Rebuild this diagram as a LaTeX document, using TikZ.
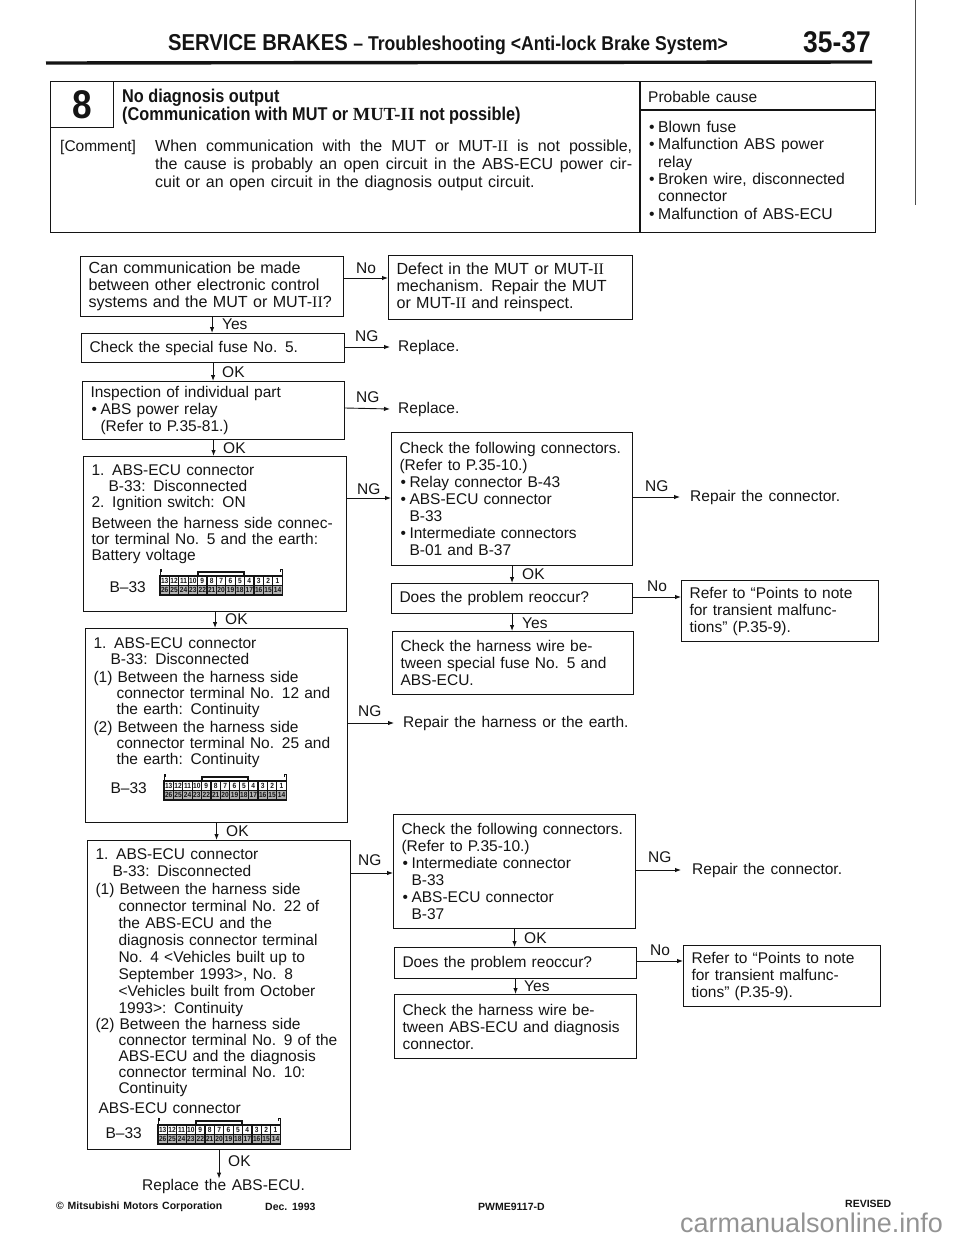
\documentclass[tikz,border=0pt]{standalone}
\usepackage{fontspec}
\setmainfont[WordSpace=1.3]{Liberation Sans}
\newfontfamily\headfont[FakeStretch=0.88]{Liberation Sans}
\newfontfamily\romanfont{Liberation Serif}
\usetikzlibrary{
    arrows.meta,
    positioning
}

\definecolor{ink}{gray}{0.08}
\newcommand{\MUTII}{MUT-{\romanfont II}}
\newcommand{\bul}{\makebox[10pt][l]{\hspace{1pt}\textbullet}}
\newcommand{\ind}[1]{\hspace*{#1pt}}
\newcommand{\bconn}[2]{%
\begin{scope}[shift={(#1,#2)}]
    \draw[line width=1pt,ink] (0,7) -- (0,0) -- (1.5,0) -- (1.5,3);
    \draw[line width=1pt,ink] (122,7) -- (122,0) -- (120.5,0) -- (120.5,3);
    \draw[line width=1.2pt,ink] (38,7) -- (38,3) -- (84,3) -- (84,7);
    \foreach \n [evaluate=\n as \cx using (13-\n)*9.4] in {13,12,...,1}{
        \draw[line width=1.1pt,ink] (\cx,7) rectangle +(9.4,9.5);
        \node[pinlbl] (top\n) at (\cx+4.7,11.7) {\n};
    }
    \foreach \n [evaluate=\n as \cx using (26-\n)*9.4] in {26,25,...,14}{
        \draw[line width=1.1pt,ink,fill=gray!60] (\cx,16.5) rectangle +(9.4,9.5);
        \node[pinlbl] (bot\n) at (\cx+4.7,21.3) {\n};
    }
\end{scope}}

\begin{document}
\begin{tikzpicture}[x=1pt,y=-1pt,ink,
    flowbox/.style={draw,line width=1.1pt,anchor=north west,align=left,
        inner xsep=8pt,inner ysep=0pt,minimum width=#1,text width=#1-16pt,
        font=\fontsize{15.5}{17}\selectfont},
    widebox/.style={font=\fontsize{16.1}{17}\selectfont},
    tightbox/.style={font=\fontsize{15.5}{16}\selectfont},
    lbl/.style={anchor=west,inner sep=0pt,font=\fontsize{15.5}{17}\selectfont},
    toplbl/.style={anchor=west,inner sep=0pt,font=\fontsize{15.5}{17}\selectfont},
    pinlbl/.style={inner sep=0pt,font=\headfont\bfseries\fontsize{7.5}{8}\selectfont},
    footlbl/.style={anchor=west,inner sep=0pt,font=\bfseries\fontsize{10.5}{12}\selectfont},
    flow/.style={-{Latex[length=6pt,width=4.5pt]},line width=0.9pt}
]
\useasboundingbox (0,0) rectangle (960,1239);

% Page head
\node[anchor=west,inner sep=0pt,font=\headfont\bfseries\fontsize{23}{26}\selectfont]
    (title) at (168,45) {SERVICE BRAKES {\fontsize{20}{26}\selectfont – Troubleshooting <Anti-lock Brake System>}};
\node[anchor=west,inner sep=0pt,font=\headfont\bfseries\fontsize{30}{32}\selectfont]
    (pagenum) at (803,42) {35-37};
\draw[line width=3.4pt] (46,63) -- (872,62);
\draw[line width=0.8pt,black!70] (915,0) -- (915,205);

% Comment table
\node[draw,line width=1.3pt,anchor=north west,minimum width=825,minimum height=151,inner sep=0pt]
    (panel) at (50,81) {};
\node[draw,line width=1.3pt,anchor=north west,minimum width=63,minimum height=46,inner sep=0pt,
      font=\headfont\bfseries\fontsize{40}{42}\selectfont] (numbox) at (50,81) {8};
\draw[line width=1.1pt] (640,0 |- panel.north) -- (640,0 |- panel.south);
\draw[line width=1.1pt] (640,110) -- (panel.east |- 0,110);

\node[anchor=north west,inner sep=0pt,align=left,font=\headfont\bfseries\fontsize{18.5}{17}\selectfont]
    (headtxt) at (122,89) {No diagnosis output\\(Communication with MUT or {\romanfont\bfseries MUT-II} not possible)};
\node[toplbl] (cmtkey) at (60,147) {[Comment]};
\node[anchor=north west,inner sep=0pt,align=left,font=\fontsize{16}{18}\selectfont]
    (cmttxt) at (155,140) {\makebox[477pt][s]{When communication with the MUT or \MUTII{} is not possible,}\\
    \makebox[477pt][s]{the cause is probably an open circuit in the ABS-ECU power cir-}\\
    cuit or an open circuit in the diagnosis output circuit.};
\node[toplbl] (causekey) at (648,97) {Probable cause};
\node[anchor=north west,inner sep=0pt,align=left,font=\fontsize{15.7}{17.3}\selectfont]
    (causetxt) at (648,121) {\bul Blown fuse\\
    \bul Malfunction ABS power\\
    \ind{10}relay\\
    \bul Broken wire, disconnected\\
    \ind{10}connector\\
    \bul Malfunction of ABS-ECU};

% Left column
\node[flowbox=263,widebox,minimum height=60pt] (canask) at (80,256)
    {Can communication be made\\between other electronic control\\systems and the MUT or \MUTII?};
\node[flowbox=263,minimum height=29pt] (fusechk) at (81,333)
    {Check the special fuse No. 5.};
\node[flowbox=262,minimum height=58pt] (relayinsp) at (82,381)
    {Inspection of individual part\\\bul ABS power relay\\\ind{10}(Refer to P.35-81.)};
\node[flowbox=263,tightbox,minimum height=155pt] (voltchk) at (83,456)
    {1. ABS-ECU connector\\\ind{17}B-33: Disconnected\\2. Ignition switch: ON\\[5pt]
    Between the harness side connec-\\tor terminal No. 5 and the earth:\\Battery voltage\\[16pt]
    \ind{18}B--33\par\vspace*{10pt}};
\node[flowbox=262,tightbox,minimum height=194pt] (contchk) at (85,628)
    {1. ABS-ECU connector\\\ind{17}B-33: Disconnected\\[2pt]
    (1) Between the harness side\\\ind{23}connector terminal No. 12 and\\\ind{23}the earth: Continuity\\[2pt]
    (2) Between the harness side\\\ind{23}connector terminal No. 25 and\\\ind{23}the earth: Continuity\\[13pt]
    \ind{17}B--33\par\vspace*{20pt}};
\node[flowbox=263,minimum height=309pt] (ecuchk) at (87,840)
    {1. ABS-ECU connector\\\ind{17}B-33: Disconnected\\[1pt]
    (1) Between the harness side\\\ind{23}connector terminal No. 22 of\\\ind{23}the ABS-ECU and the\\\ind{23}diagnosis connector terminal\\\ind{23}No. 4 <Vehicles built up to\\\ind{23}September 1993>, No. 8\\\ind{23}<Vehicles built from October\\\ind{23}1993>: Continuity\\[-1pt]
    (2) Between the harness side\\[-1pt]\ind{23}connector terminal No. 9 of the\\[-1pt]\ind{23}ABS-ECU and the diagnosis\\[-1pt]\ind{23}connector terminal No. 10:\\[-1pt]\ind{23}Continuity\\[3pt]
    \ind{3}ABS-ECU connector\\[8pt]
    \ind{10}B--33\par\vspace*{2pt}};
\node[lbl] (replace) at (142,1186) {Replace the ABS-ECU.};

% Connector views
\bconn{160}{569}
\bconn{164}{774}
\bconn{158}{1118}

% Middle column
\node[flowbox=244,widebox,minimum height=64pt] (defect) at (388,255)
    {Defect in the MUT or \MUTII\\mechanism. Repair the MUT\\or \MUTII{} and reinspect.};
\node[lbl] (repa) at (398,347) {Replace.};
\node[lbl] (repb) at (398,409) {Replace.};
\node[flowbox=241,minimum height=133pt] (connchk) at (391,432)
    {Check the following connectors.\\(Refer to P.35-10.)\\\bul Relay connector B-43\\\bul ABS-ECU connector\\\ind{10}B-33\\\bul Intermediate connectors\\\ind{10}B-01 and B-37};
\node[flowbox=241,minimum height=30pt] (reocca) at (391,583)
    {Does the problem reoccur?};
\node[flowbox=241,minimum height=63pt] (wirea) at (392,631)
    {Check the harness wire be-\\tween special fuse No. 5 and\\ABS-ECU.};
\node[lbl] (repc) at (403,723) {Repair the harness or the earth.};
\node[flowbox=242,minimum height=114pt] (connchkb) at (393,814)
    {Check the following connectors.\\(Refer to P.35-10.)\\\bul Intermediate connector\\\ind{10}B-33\\\bul ABS-ECU connector\\\ind{10}B-37};
\node[flowbox=242,minimum height=31pt] (reoccb) at (394,947)
    {Does the problem reoccur?};
\node[flowbox=242,minimum height=64pt] (wireb) at (394,994)
    {Check the harness wire be-\\tween ABS-ECU and diagnosis\\connector.};

% Right column
\node[lbl] (repd) at (690,497) {Repair the connector.};
\node[flowbox=197,minimum height=61pt] (notea) at (681,580)
    {Refer to ``Points to note\\for transient malfunc-\\tions'' (P.35-9).};
\node[lbl] (repe) at (692,870) {Repair the connector.};
\node[flowbox=197,minimum height=61pt] (noteb) at (683,945)
    {Refer to ``Points to note\\for transient malfunc-\\tions'' (P.35-9).};

% Flow down
\draw[flow] (canask.south) -- (canask.south |- fusechk.north);
\draw[flow] (fusechk.south) -- (fusechk.south |- relayinsp.north);
\draw[flow] (relayinsp.south) -- (relayinsp.south |- voltchk.north);
\draw[flow] (voltchk.south) -- (voltchk.south |- contchk.north);
\draw[flow] (contchk.south) -- (contchk.south |- ecuchk.north);
\draw[flow] (ecuchk.south) -- (ecuchk.south |- replace.north);
\draw[flow] (connchk.south) -- (connchk.south |- reocca.north);
\draw[flow] (reocca.south) -- (reocca.south |- wirea.north);
\draw[flow] (connchkb.south) -- (connchkb.south |- reoccb.north);
\draw[flow] (reoccb.south) -- (reoccb.south |- wireb.north);

% Flow across
\draw[flow] (canask.east |- 0,278) -- (defect.west |- 0,278);
\draw[flow] (fusechk.east |- 0,347) -- ([xshift=-8pt]repa.west);
\draw[flow] (relayinsp.east |- 0,408) -- ([xshift=-8pt]repb.west);
\draw[flow] (voltchk.east |- 0,498) -- (connchk.west |- 0,498);
\draw[flow] (connchk.east |- 0,497) -- ([xshift=-10pt]repd.west);
\draw[flow] (reocca.east |- 0,597) -- (notea.west |- 0,597);
\draw[flow] (contchk.east |- 0,723) -- ([xshift=-9pt]repc.west);
\draw[flow] (ecuchk.east |- 0,873) -- (connchkb.west |- 0,873);
\draw[flow] (connchkb.east |- 0,870) -- ([xshift=-11pt]repe.west);
\draw[flow] (reoccb.east |- 0,961) -- (noteb.west |- 0,961);

% Yes/No labels
\node[lbl] (ynA) at (222,324) {Yes};
\node[lbl] (ynB) at (222,372) {OK};
\node[lbl] (ynC) at (223,448) {OK};
\node[lbl] (ynD) at (225,619) {OK};
\node[lbl] (ynE) at (226,831) {OK};
\node[lbl] (ynF) at (228,1161) {OK};
\node[lbl] (ynG) at (522,574) {OK};
\node[lbl] (ynH) at (522,623) {Yes};
\node[lbl] (ynI) at (524,938) {OK};
\node[lbl] (ynJ) at (524,986) {Yes};
\node[lbl] (ynK) at (356,268) {No};
\node[lbl] (ynL) at (355,336) {NG};
\node[lbl] (ynM) at (356,397) {NG};
\node[lbl] (ynN) at (357,489) {NG};
\node[lbl] (ynO) at (358,711) {NG};
\node[lbl] (ynP) at (358,860) {NG};
\node[lbl] (ynQ) at (645,486) {NG};
\node[lbl] (ynR) at (647,586) {No};
\node[lbl] (ynS) at (648,857) {NG};
\node[lbl] (ynT) at (650,950) {No};

% Page foot
\node[footlbl] (footco) at (56,1207) {© Mitsubishi Motors Corporation};
\node[footlbl] (footdt) at (265,1207) {Dec. 1993};
\node[footlbl] (footid) at (478,1207) {PWME9117-D};
\node[footlbl] (footrv) at (845,1204) {REVISED};
\node[anchor=west,inner sep=0pt,text=gray!85,font=\fontsize{27}{29}\selectfont]
    (footmark) at (680,1223) {carmanualsonline.info};

\end{tikzpicture}
\end{document}
